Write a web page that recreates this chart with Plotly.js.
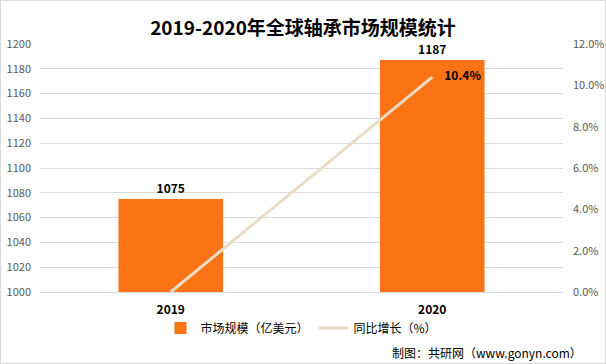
<!DOCTYPE html>
<html><head><meta charset="utf-8">
<script src="https://cdn.plot.ly/plotly-3.0.1.min.js"></script>
<style>html,body{margin:0;padding:0;background:#fff}#wrap{width:604px;height:362px;border:1px solid #D9D9D9;}#chart{width:604px;height:362px}</style>
</head><body><div id="wrap"><div id="chart"></div></div>
<script>
const categories = ["2019", "2020"];
const marketSize = [1075, 1187];
const growth = [0, 0.104];
const growthLabels = ["", "\u2002\u200210.4%"];
const FONT = '"Noto Sans CJK SC", "Noto Sans", sans-serif';

const traces = [
  {type:'bar', name:'市场规模（亿美元）', x:categories, y:marketSize,
   marker:{color:'#FA7314'}, width:0.4,
   text:marketSize.map(String), textposition:'outside', cliponaxis:false,
   textfont:{family:FONT, size:12, color:'#000', weight:'bold'}, hoverinfo:'none'},
  {type:'scatter', mode:'lines+text', name:'同比增长（%）', x:categories, y:growth, yaxis:'y2',
   line:{color:'#EADCC2', width:3}, text:growthLabels, textposition:'middle right', cliponaxis:false,
   textfont:{family:FONT, size:12, color:'#000', weight:'bold'}, hoverinfo:'none'}
];

const layout = {
  width:604, height:362,
  margin:{l:39, r:42, t:43, b:71},
  paper_bgcolor:'#fff', plot_bgcolor:'#fff',
  font:{family:FONT, color:'#595959', size:11},
  title:{text:'<b>2019-2020年全球轴承市场规模统计</b>', font:{family:FONT, size:19, color:'#000'}, x:0.5, xanchor:'center', y:0.925, yanchor:'middle'},
  bargap:0.6,
  xaxis:{type:'category', tickfont:{family:FONT, size:12, color:'#000', weight:'bold'}, showline:true, linecolor:'#D9D9D9', ticks:'', showgrid:false, ticklabelstandoff:7},
  yaxis:{range:[1000,1200], dtick:20, gridcolor:'#D9D9D9', zeroline:false, ticks:'', tickfont:{size:11, color:'#595959'}, ticklabelstandoff:8},
  yaxis2:{range:[0,0.12], dtick:0.02, tickformat:'.1%', overlaying:'y', side:'right', showgrid:false, zeroline:false, ticks:'', tickfont:{size:11, color:'#595959'}, ticklabelstandoff:9},
  showlegend:true,
  legend:{orientation:'h', x:0.5, xanchor:'center', y:-0.145, yanchor:'middle', bgcolor:'rgba(0,0,0,0)', font:{family:FONT, size:12, color:'#000'}, traceorder:'normal'},
  annotations:[{text:'制图：共研网（www.gonyn.com）', xref:'paper', yref:'paper', x:1.04, xanchor:'right', y:-0.245, yanchor:'middle', showarrow:false, font:{family:FONT, size:12, color:'#000'}}]
};
Plotly.newPlot('chart', traces, layout, {displayModeBar:false, staticPlot:true});
</script></body></html>
